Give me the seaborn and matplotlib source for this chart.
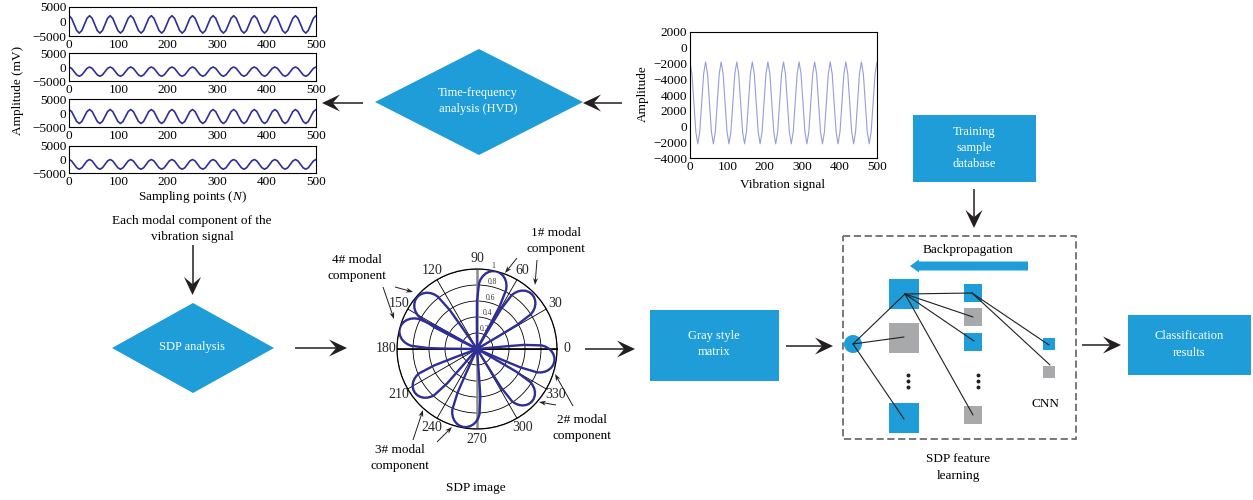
import numpy as np
import matplotlib
matplotlib.use("Agg")
import matplotlib.pyplot as plt
import seaborn as sns
from matplotlib.patches import Polygon, Rectangle, Circle

# ------------------------------------------------------------------ data
# sampling grid of the waveforms (8 samples per cycle, 12 cycles over 500 points)
SAMPLE_POS = np.linspace(0, 500, 97)

MODE1 = [2000, 1120, -1000, -3120, -4000, -3120, -1000, 1120,
         2000, 1120, -1000, -3120, -4000, -3120, -1000, 1120,
         2000, 1120, -1000, -3120, -4000, -3120, -1000, 1120,
         2000, 1120, -1000, -3120, -4000, -3120, -1000, 1120,
         2000, 1120, -1000, -3120, -4000, -3120, -1000, 1120,
         2000, 1120, -1000, -3120, -4000, -3120, -1000, 1120,
         2000, 1120, -1000, -3120, -4000, -3120, -1000, 1120,
         2000, 1120, -1000, -3120, -4000, -3120, -1000, 1120,
         2000, 1120, -1000, -3120, -4000, -3120, -1000, 1120,
         2000, 1120, -1000, -3120, -4000, -3120, -1000, 1120,
         2000, 1120, -1000, -3120, -4000, -3120, -1000, 1120,
         2000, 1120, -1000, -3120, -4000, -3120, -1000, 1120,
         2000]
MODE2 = [0, -480, -1650, -2820, -3300, -2820, -1650, -480,
         0, -480, -1650, -2820, -3300, -2820, -1650, -480,
         0, -480, -1650, -2820, -3300, -2820, -1650, -480,
         0, -480, -1650, -2820, -3300, -2820, -1650, -480,
         0, -480, -1650, -2820, -3300, -2820, -1650, -480,
         0, -480, -1650, -2820, -3300, -2820, -1650, -480,
         0, -480, -1650, -2820, -3300, -2820, -1650, -480,
         0, -480, -1650, -2820, -3300, -2820, -1650, -480,
         0, -480, -1650, -2820, -3300, -2820, -1650, -480,
         0, -480, -1650, -2820, -3300, -2820, -1650, -480,
         0, -480, -1650, -2820, -3300, -2820, -1650, -480,
         0, -480, -1650, -2820, -3300, -2820, -1650, -480,
         0]
MODE3 = [1250, 520, -1250, -3020, -3750, -3020, -1250, 520,
         1250, 520, -1250, -3020, -3750, -3020, -1250, 520,
         1250, 520, -1250, -3020, -3750, -3020, -1250, 520,
         1250, 520, -1250, -3020, -3750, -3020, -1250, 520,
         1250, 520, -1250, -3020, -3750, -3020, -1250, 520,
         1250, 520, -1250, -3020, -3750, -3020, -1250, 520,
         1250, 520, -1250, -3020, -3750, -3020, -1250, 520,
         1250, 520, -1250, -3020, -3750, -3020, -1250, 520,
         1250, 520, -1250, -3020, -3750, -3020, -1250, 520,
         1250, 520, -1250, -3020, -3750, -3020, -1250, 520,
         1250, 520, -1250, -3020, -3750, -3020, -1250, 520,
         1250, 520, -1250, -3020, -3750, -3020, -1250, 520,
         1250]
MODE4 = [0, -530, -1800, -3070, -3600, -3070, -1800, -530,
         0, -530, -1800, -3070, -3600, -3070, -1800, -530,
         0, -530, -1800, -3070, -3600, -3070, -1800, -530,
         0, -530, -1800, -3070, -3600, -3070, -1800, -530,
         0, -530, -1800, -3070, -3600, -3070, -1800, -530,
         0, -530, -1800, -3070, -3600, -3070, -1800, -530,
         0, -530, -1800, -3070, -3600, -3070, -1800, -530,
         0, -530, -1800, -3070, -3600, -3070, -1800, -530,
         0, -530, -1800, -3070, -3600, -3070, -1800, -530,
         0, -530, -1800, -3070, -3600, -3070, -1800, -530,
         0, -530, -1800, -3070, -3600, -3070, -1800, -530,
         0, -530, -1800, -3070, -3600, -3070, -1800, -530,
         0]
# raw vibration signal (plotted against the stacked tick scale of the original)
VIBRATION = [8200, 6680, 3000, -680, -2200, -680, 3000, 6680,
             8200, 6680, 3000, -680, -2200, -680, 3000, 6680,
             8200, 6680, 3000, -680, -2200, -680, 3000, 6680,
             8200, 6680, 3000, -680, -2200, -680, 3000, 6680,
             8200, 6680, 3000, -680, -2200, -680, 3000, 6680,
             8200, 6680, 3000, -680, -2200, -680, 3000, 6680,
             8200, 6680, 3000, -680, -2200, -680, 3000, 6680,
             8200, 6680, 3000, -680, -2200, -680, 3000, 6680,
             8200, 6680, 3000, -680, -2200, -680, 3000, 6680,
             8200, 6680, 3000, -680, -2200, -680, 3000, 6680,
             8200, 6680, 3000, -680, -2200, -680, 3000, 6680,
             8200, 6680, 3000, -680, -2200, -680, 3000, 6680,
             8200]

X_TICKS = [0, 100, 200, 300, 400, 500]
MODE_YTICKS = [-5000, 0, 5000]
MODE_YTICK_LABELS = ["\u22125000", "0", "5000"]
VIB_YTICKS = [-4000, -2000, 0, 2000, 4000, 6000, 8000, 10000, 12000]
VIB_YTICK_LABELS = ["\u22124000", "\u22122000", "0", "2000", "4000",
                    "\u22124000", "\u22122000", "0", "2000"]

# SDP petals: direction (deg) and normalised length, 2 petals per modal component
PETAL_DIRECTIONS = [76, 45, 351, 316, 215, 260, 139, 165]
PETAL_LENGTHS = [1.0, 0.97, 0.98, 0.95, 0.95, 0.99, 0.99, 1.0]
# petal outline: angular offset (deg) vs relative radius
PETAL_SPREAD = [-14, -14.3, -14, -12.2, -11.1, -9.5, -7.5, -5.1, -2.6, 0,
                2.6, 5.1, 7.5, 9.5, 11.1, 12.2, 14, 14.3, 14]
PETAL_REACH = [0, 0.35, 0.6, 0.825, 0.87, 0.9125, 0.949, 0.977, 0.994, 1.0,
               0.994, 0.977, 0.949, 0.9125, 0.87, 0.825, 0.6, 0.35, 0]
THETA_TICKS = [0, 30, 60, 90, 120, 150, 180, 210, 240, 270, 300, 330]
R_TICKS = [0.2, 0.4, 0.6, 0.8, 1.0]
R_TICK_LABELS = ["0.2", "0.4", "0.6", "0.8", "1"]

# ------------------------------------------------------------------ style
sns.set_style("white")
plt.rcParams["font.family"] = ["Liberation Serif", "DejaVu Serif"]
plt.rcParams["mathtext.fontset"] = "custom"
plt.rcParams["mathtext.it"] = "Liberation Serif:italic"
plt.rcParams["mathtext.rm"] = "Liberation Serif"
plt.rcParams["axes.unicode_minus"] = True

BLUE = "#1E9DD8"
GRAY = "#A8A9AB"
WAVE = "#2E2E96"
VIBC = "#9A9ADC"
INK = "#231F20"
FS = 9.5

W, H = 1253, 500
fig = plt.figure(figsize=(W / 100, H / 100), dpi=100)
fig.patch.set_facecolor("white")


def px_axes(x0, y0, x1, y1, **kw):
    return fig.add_axes([x0 / W, 1 - y1 / H, (x1 - x0) / W, (y1 - y0) / H], **kw)


def style_cart(ax):
    for s in ax.spines.values():
        s.set_visible(True)
        s.set_color("black")
        s.set_linewidth(0.8)
    ax.tick_params(direction="in", length=2.5, width=0.6, labelsize=FS, pad=2,
                   colors="black")


# ---- modal component panels
mode_boxes = [(69, 7, 316, 36), (69, 53, 316, 81), (69, 99, 316, 127), (69, 146, 316, 173)]
for box_, series in zip(mode_boxes, [MODE1, MODE2, MODE3, MODE4]):
    ax = px_axes(*box_)
    sns.lineplot(x=SAMPLE_POS, y=series, ax=ax, color=WAVE, lw=1.2)
    ax.set_xlim(0, 500)
    ax.set_ylim(-5000, 5000)
    ax.set_xticks(X_TICKS)
    ax.set_xticklabels([str(v) for v in X_TICKS])
    ax.set_yticks(MODE_YTICKS)
    ax.set_yticklabels(MODE_YTICK_LABELS)
    ax.set_xlabel("")
    ax.set_ylabel("")
    style_cart(ax)

# ---- vibration signal panel
axv = px_axes(690, 32, 877, 158)
sns.lineplot(x=SAMPLE_POS, y=VIBRATION, ax=axv, color=VIBC, lw=0.8)
axv.set_xlim(0, 500)
axv.set_ylim(-4000, 12000)
axv.set_xticks(X_TICKS)
axv.set_xticklabels([str(v) for v in X_TICKS])
axv.set_yticks(VIB_YTICKS)
axv.set_yticklabels(VIB_YTICK_LABELS)
axv.set_xlabel("")
axv.set_ylabel("")
style_cart(axv)

# ---- SDP polar image
axp = px_axes(397, 269, 557, 429, projection="polar")
axp.set_facecolor("none")
axp.set_ylim(0, 1.0)
axp.set_thetagrids(THETA_TICKS, [str(t) for t in THETA_TICKS], fontsize=10)
axp.set_rgrids(R_TICKS, R_TICK_LABELS, angle=80, fontsize=5.5, color="#333333")
axp.grid(True, color="black", lw=0.6)
axp.spines["polar"].set_color("black")
axp.spines["polar"].set_linewidth(0.9)
axp.tick_params(axis="x", pad=-3)
axp.plot([0, np.pi], [1.0, 1.0], color="black", lw=1.2, zorder=2)
axp.plot([np.pi / 2, 3 * np.pi / 2], [1.0, 1.0], color="#8C8C8C", lw=1.8, zorder=2)
spread = np.array(PETAL_SPREAD)
reach = np.array(PETAL_REACH)
for d, L in zip(PETAL_DIRECTIONS, PETAL_LENGTHS):
    axp.plot(np.deg2rad(d + spread), L * reach, color=WAVE, lw=1.7, zorder=3,
             solid_joinstyle="round")

# ------------------------------------------------------------------ overlay
ov = fig.add_axes([0, 0, 1, 1], zorder=10)
ov.set_xlim(0, W)
ov.set_ylim(H, 0)
ov.axis("off")


def big_arrow(x0, y0, x1, y1, L=18, Wd=17, notch=0.6, lw=1.1):
    d = np.array([x1 - x0, y1 - y0], float)
    d /= np.hypot(*d)
    n = np.array([-d[1], d[0]])
    tip = np.array([x1, y1], float)
    back = tip - L * d
    c1 = back + Wd / 2 * n
    c2 = back - Wd / 2 * n
    nt = tip - notch * L * d
    ov.plot([x0, nt[0]], [y0, nt[1]], color=INK, lw=lw, solid_capstyle="butt")
    ov.add_patch(Polygon([tip, c1, nt, c2], closed=True, fc=INK, ec="none"))


def small_arrow(x0, y0, x1, y1):
    big_arrow(x0, y0, x1, y1, L=7, Wd=5, notch=0.7, lw=0.7)


def diamond(cx, cy, hw, hh):
    ov.add_patch(Polygon([(cx - hw, cy), (cx, cy - hh), (cx + hw, cy), (cx, cy + hh)],
                         closed=True, fc=BLUE, ec="none"))


def box(x0, y0, x1, y1, fc=BLUE):
    ov.add_patch(Rectangle((x0, y0), x1 - x0, y1 - y0, fc=fc, ec="none"))


def txt(x, y, s, color="black", fs=FS, **kw):
    ov.text(x, y, s, color=color, fontsize=fs, ha="center", va="center", **kw)


# labels of the modal panels
txt(18, 90, "Amplitude (mV)", rotation=90)
txt(192, 197, "Sampling points ($N$)")
txt(192, 221, "Each modal component of the")
txt(192, 237, "vibration signal")
txt(643, 94, "Amplitude", rotation=90)
txt(783, 185, "Vibration signal")

# flow blocks
diamond(479, 102, 104, 53)
txt(478, 93, "Time-frequency", color="white", fs=9)
txt(478, 109, "analysis (HVD)", color="white", fs=9)
diamond(193, 348, 81, 45)
txt(192, 347, "SDP analysis", color="white", fs=9)
box(650, 310, 779, 381)
txt(714, 336, "Gray style", color="white", fs=9)
txt(714, 352, "matrix", color="white", fs=9)
box(913, 115, 1036, 182)
txt(974, 132, "Training", color="white", fs=9)
txt(974, 148, "sample", color="white", fs=9)
txt(974, 164, "database", color="white", fs=9)
box(1128, 315, 1251, 375)
txt(1189, 336, "Classification", color="white", fs=9)
txt(1189, 353, "results", color="white", fs=9)

# big flow arrows
big_arrow(363, 103, 322, 103)
big_arrow(622, 103, 583, 103)
big_arrow(192.5, 245, 192.5, 295)
big_arrow(295, 348, 347, 348)
big_arrow(585, 349, 635, 349)
big_arrow(786, 346, 833, 346)
big_arrow(974, 189, 974, 228)
big_arrow(1082, 345, 1121, 345)

# SDP annotations
txt(556, 233, "1# modal")
txt(556, 249, "component")
small_arrow(517, 258, 505, 273)
small_arrow(537, 260, 535, 285)
txt(357, 260, "4# modal")
txt(357, 276, "component")
small_arrow(395, 287, 413, 292)
small_arrow(383, 287, 394, 319)
txt(582, 420, "2# modal")
txt(582, 436, "component")
small_arrow(573, 406, 555, 374)
small_arrow(556, 405, 539, 402)
txt(400, 450, "3# modal")
txt(400, 466, "component")
small_arrow(413, 440, 423, 410)
small_arrow(437, 442, 452, 427)
txt(476, 488, "SDP image")

# CNN block
ov.add_patch(Rectangle((843, 236), 233, 203, fill=False, ec="#6D6D6D", lw=1.3,
                       ls=(0, (4, 2))))
txt(968, 250, "Backpropagation")
ov.add_patch(Polygon([(910, 266), (919, 259.5), (919, 261.5), (1028, 261.5),
                      (1028, 270.5), (919, 270.5), (919, 272.5)], closed=True,
                     fc=BLUE, ec="none"))
box(889, 279, 919, 309)
box(889, 323, 919, 353, fc=GRAY)
box(889, 403, 919, 433)
box(964, 284, 982, 302)
box(964, 308, 982, 326, fc=GRAY)
box(964, 333, 982, 351)
box(964, 406, 982, 424, fc=GRAY)
box(1043, 338, 1055, 350)
box(1043, 366, 1055, 378, fc=GRAY)
ov.add_patch(Circle((853, 344), 9, fc=BLUE, ec="none"))
for x in (907.5, 977.5):
    ov.plot([x, x, x], [375, 381, 387], "o", ms=1.8, color=INK)
segs = [((905, 294), (853, 344)), ((905, 294), (972, 293)), ((905, 294), (973, 317)),
        ((905, 294), (974, 341)), ((905, 294), (973, 415)), ((853, 344), (904, 337)),
        ((853, 344), (904, 419)), ((972, 293), (1049, 345)), ((972, 293), (1050, 365))]
for (a, b) in segs:
    ov.plot([a[0], b[0]], [a[1], b[1]], color=INK, lw=0.8)
txt(1045, 404, "CNN")
txt(958, 459, "SDP feature")
txt(958, 476, "learning")

fig.savefig("out.png", dpi=100, facecolor="white")
